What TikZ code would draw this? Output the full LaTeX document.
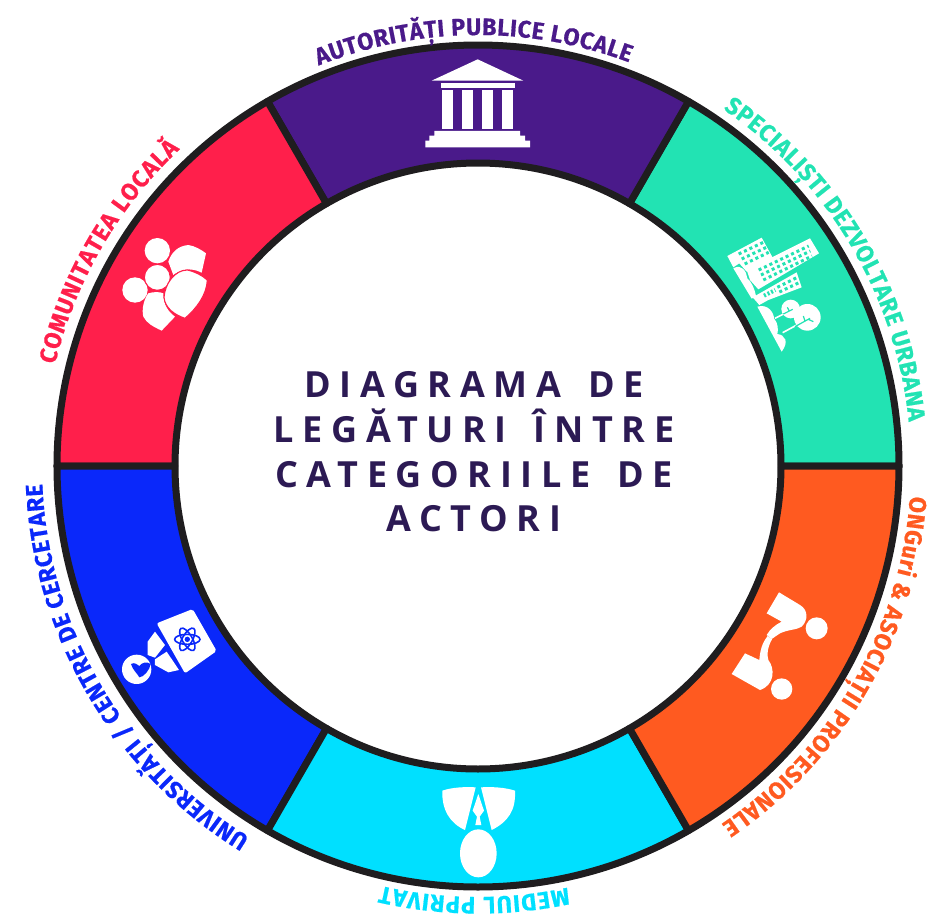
\documentclass[tikz,border=0pt]{standalone}
\usepackage{fontspec}
\usetikzlibrary{decorations.text}
\setmainfont{Open Sans}
\newfontfamily\ringfont{Fira Sans}[FakeStretch=0.97,FakeBold=0.6]
\newfontfamily\titlefont{Open Sans}[LetterSpace=24,WordSpace=1.5]
\newcommand{\rl}{\ringfont\bfseries\fontsize{24}{24}\selectfont}
\definecolor{cPurple}{HTML}{4A1A8A}
\definecolor{cTeal}{HTML}{22E3B3}
\definecolor{cOrange}{HTML}{FF5A20}
\definecolor{cCyan}{HTML}{00E0FF}
\definecolor{cBlue}{HTML}{0A28FA}
\definecolor{cRed}{HTML}{FF1F4B}
\definecolor{cRing}{HTML}{1F1D1F}
\definecolor{cTitle}{HTML}{2C1A54}
\tikzset{
  sector/.style={draw=cRing,line width=7pt,line join=round},
  ringlabel/.style={decorate,decoration={text along path,text align=fit to path,text color=#1}},
  windows/.style={draw=cTeal,line width=3pt,dash pattern=on 3pt off 3pt},
  atom/.style={draw=cBlue,line width=1.6pt}
}
\begin{document}
\begin{tikzpicture}[x=1pt,y=1pt]
\useasboundingbox (-478,-448) rectangle (450,466);
\draw[sector,fill=cTeal] (0:421) arc[start angle=0,end angle=60,radius=421] -- (60:303) arc[start angle=60,end angle=0,radius=303] -- cycle;
\draw[sector,fill=cPurple] (60:421) arc[start angle=60,end angle=120,radius=421] -- (120:303) arc[start angle=120,end angle=60,radius=303] -- cycle;
\draw[sector,fill=cRed] (120:421) arc[start angle=120,end angle=180,radius=421] -- (180:303) arc[start angle=180,end angle=120,radius=303] -- cycle;
\draw[sector,fill=cBlue] (180:421) arc[start angle=180,end angle=240,radius=421] -- (240:303) arc[start angle=240,end angle=180,radius=303] -- cycle;
\draw[sector,fill=cCyan] (240:421) arc[start angle=240,end angle=300,radius=421] -- (300:303) arc[start angle=300,end angle=240,radius=303] -- cycle;
\draw[sector,fill=cOrange] (300:421) arc[start angle=300,end angle=360,radius=421] -- (360:303) arc[start angle=360,end angle=300,radius=303] -- cycle;
\path[ringlabel=cPurple,decoration={text={|\rl|AUTORITĂȚI PUBLICE LOCALE}}] (111.7:431) arc[start angle=111.7,end angle=69.5,radius=431];
\path[ringlabel=cTeal,decoration={text={|\rl|SPECIALIȘTI DEZVOLTARE URBANA}}] (55.5:433) arc[start angle=55.5,end angle=5.9,radius=433];
\path[ringlabel=cOrange,decoration={text={|\rl|ONGuri {\&} ASOCIAȚII PROFESIONALE}}] (-4:433) arc[start angle=-4,end angle=-55.8,radius=433];
\path[ringlabel=cCyan,decoration={text={|\rl|MEDIUL PPRIVAT}}] (-78:431) arc[start angle=-78,end angle=-103,radius=431];
\path[ringlabel=cBlue,decoration={text={|\rl|UNIVERSITĂȚI / CENTRE DE CERCETARE}}] (-121.6:436) arc[start angle=-121.6,end angle=-177.6,radius=436];
\path[ringlabel=cRed,decoration={text={|\rl|COMUNITATEA LOCALĂ}}] (166.5:435) arc[start angle=166.5,end angle=133.3,radius=435];
\node[align=center,text=cTitle,font=\titlefont\fontsize{36}{44.6}\selectfont\bfseries] (title) at (-4,14) {DIAGRAMA DE\\LEGĂTURI ÎNTRE\\CATEGORIILE DE\\ACTORI};
\begin{scope}[shift={(-78,426)},scale=1/3,yscale=-1]
\fill[white] (233,58) -- (370,122) -- (95,122) -- cycle;
\fill[white] (122,130) rectangle (345,145);
\fill[white] (126,150) rectangle (160,268);
\fill[white] (186,150) rectangle (220,268);
\fill[white] (246,150) rectangle (280,268);
\fill[white] (305,150) rectangle (339,268);
\fill[white] (103,273) -- (360,273) -- (360,287) -- (375,287) -- (375,302) -- (390,302) -- (390,322) -- (76,322) -- (76,302) -- (88,302) -- (88,287) -- (103,287) -- cycle;
\end{scope}
\begin{scope}[shift={(222,256)},scale=1/3,yscale=-1]
\fill[white] (82,138) -- (185,83) -- (222,150) -- (140,185) -- (118,160) -- (100,172) -- cycle;
\fill[white] (140,180) -- (330,85) -- (357,130) -- (175,238) -- (150,210) -- cycle;
\fill[white] (158,262) -- (290,187) -- (305,232) -- (205,270) -- (178,285) -- cycle;
\fill[white] (100,175) .. controls (125,160) and (140,185) .. (142,205) .. controls (155,215) and (165,240) .. (168,258) -- (155,266) -- cycle;
\fill[white] (172,290) .. controls (205,280) and (222,310) .. (222,325) .. controls (235,340) and (235,360) .. (232,372) .. controls (255,375) and (268,395) .. (245,425) -- cycle;
\fill[white] (272,297) circle (28);
\fill[white] (322,322) circle (40);
\draw[white,line width=1.6pt] (225,325) -- (265,305);
\draw[white,line width=1.6pt] (248,368) -- (318,330);
\draw[cTeal,line width=1.2pt] (250,312) -- (278,298) (268,303) -- (262,292);
\draw[cTeal,line width=1.2pt] (285,350) -- (330,325) (315,333) -- (310,318) (325,328) -- (340,335);
\draw[windows] (116,132) -- (192,96);
\draw[windows] (125,147) -- (199,112);
\draw[windows] (134,162) -- (206,127);
\draw[windows] (176,180) -- (326,108);
\draw[windows] (183,195) -- (331,123);
\draw[windows] (190,210) -- (336,138);
\draw[windows] (232,232) -- (296,200);
\draw[windows] (238,246) -- (301,216);
\draw[cTeal,line width=4pt,dash pattern=on 2pt off 2pt] (192,257) -- (226,240);
\end{scope}
\begin{scope}[shift={(222,-104)},scale=1/3,yscale=-1]
\fill[white] (237,67) -- (300,105) .. controls (325,120) and (325,150) .. (305,170) .. controls (290,180) and (265,178) .. (240,190) -- (215,207) -- (200,195) .. controls (210,178) and (225,165) .. (245,155) -- (200,130) -- cycle;
\fill[white] (350,175) circle (33);
\fill[white] (135,250) -- (178,270) .. controls (180,245) and (185,220) .. (203,198) -- (216,208) .. controls (203,230) and (200,255) .. (205,270) .. controls (225,295) and (225,345) .. (180,360) -- (95,312) -- cycle;
\fill[white] (245,357) circle (32);
\end{scope}
\begin{scope}[shift={(-68,-304)},scale=1/3,yscale=-1]
\fill[white] (97,62) .. controls (125,52) and (165,50) .. (197,52) -- (165,180) .. controls (120,160) and (95,120) .. (97,62) -- cycle;
\fill[white] (315,62) .. controls (285,52) and (245,50) .. (213,52) -- (245,180) .. controls (295,155) and (318,120) .. (315,62) -- cycle;
\fill[white] (205,72) -- (222,122) -- (209,140) -- (214,165) -- (196,165) -- (201,140) -- (188,122) -- cycle;
\fill[white] (205,250) ellipse (55 and 72);
\end{scope}
\begin{scope}[shift={(-378,-124)},scale=1/3,yscale=-1]
\fill[white,rounded corners=2pt] (170,100) -- (278,57) -- (350,183) -- (255,250) -- cycle;
\draw[atom] (262,148) ellipse (38 and 15);
\draw[atom,rotate around={60:(262,148)}] (262,148) ellipse (38 and 15);
\draw[atom,rotate around={120:(262,148)}] (262,148) ellipse (38 and 15);
\fill[cBlue] (262,148) circle (8);
\fill[white] (165,125) -- (195,165) -- (165,203) -- (143,195) -- (143,155) -- cycle;
\fill[white] (165,208) -- (200,185) -- (237,240) -- (205,247) -- (165,225) -- cycle;
\fill[white] (110,238) circle (44);
\fill[cBlue] (93,222) .. controls (105,215) and (112,225) .. (118,228) .. controls (125,218) and (140,213) .. (152,222) .. controls (150,240) and (130,262) .. (118,262) .. controls (112,250) and (98,240) .. (93,222) -- cycle;
\end{scope}
\begin{scope}[shift={(-378,246)},scale=1/3,yscale=-1]
\fill[white] (205,125) .. controls (215,95) and (235,78) .. (265,75) .. controls (285,78) and (305,90) .. (318,100) -- (305,158) .. controls (270,140) and (240,150) .. (220,165) -- cycle;
\fill[white] (172,92) circle (38);
\fill[white] (145,220) .. controls (160,215) and (180,215) .. (190,220) .. controls (190,255) and (205,275) .. (225,290) -- (185,332) .. controls (160,320) and (140,310) .. (130,290) .. controls (125,270) and (130,240) .. (145,220) -- cycle;
\fill[white] (105,210) circle (38);
\draw[cRed,fill=white,line width=1.1pt] (172,172) circle (39);
\draw[cRed,fill=white,line width=1.1pt] (192,232) .. controls (195,190) and (225,150) .. (262,150) .. controls (285,155) and (305,165) .. (322,180) .. controls (320,225) and (290,265) .. (255,295) .. controls (225,285) and (195,265) .. (192,232) -- cycle;
\end{scope}
\end{tikzpicture}
\end{document}
